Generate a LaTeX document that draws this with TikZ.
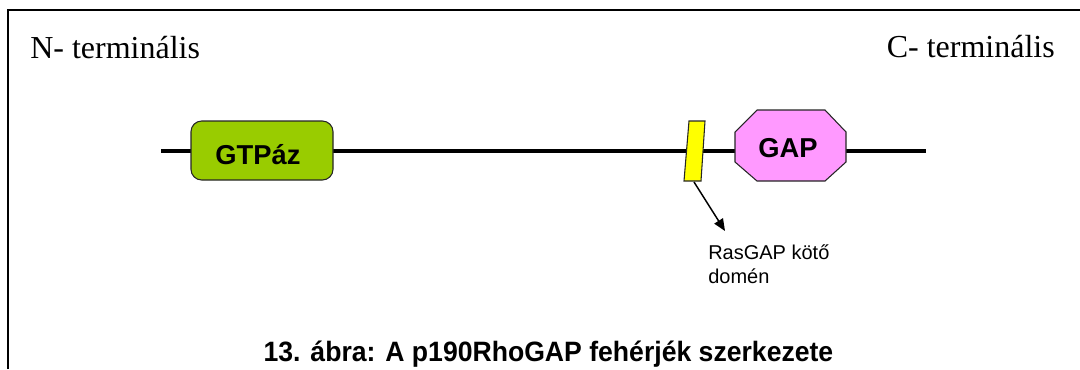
\documentclass[tikz,border=0pt]{standalone}
\usepackage{fontspec}
\setmainfont{Liberation Serif}
\setsansfont{Liberation Sans}
\usepackage{graphicx}
\usetikzlibrary{arrows.meta}
\definecolor{domgreen}{HTML}{99CC00}
\definecolor{domyellow}{HTML}{FFFF00}
\definecolor{dompink}{HTML}{FF99FF}
\tikzset{
  termtext/.style={font=\fontsize{24pt}{28pt}\selectfont\rmfamily, inner sep=0pt},
  domtext/.style={font=\fontsize{20.5pt}{24pt}\selectfont\sffamily\bfseries, inner sep=0pt},
  domborder/.style={draw=black!85, line width=0.8pt},
  chain/.style={line width=3pt},
  labeltext/.style={font=\fontsize{15pt}{18pt}\selectfont\sffamily, inner sep=0pt, align=left},
  captiontext/.style={font=\fontsize{21pt}{25pt}\selectfont\sffamily\bfseries, inner sep=0pt}
}
\begin{document}
\begin{tikzpicture}[x=0.75pt, y=-0.75pt]
\useasboundingbox (0,0) rectangle (1080,369);
% frame
\draw[line width=1.5pt] (8,369) -- (8,10) -- (1080,10);
% texts
\node[termtext, anchor=base west] (nterm) at (30,58) {N- terminális};
\node[termtext, anchor=base east] (cterm) at (1055,57) {C- terminális};
% chain
\coordinate (lstart) at (161,151);
\coordinate (lend) at (926,151);
\draw[chain] (lstart) -- (lend);
% GTPase box
\node[domborder, fill=domgreen, rounded corners=8pt, minimum width=106.5pt, minimum height=44.25pt, inner sep=0pt] (gtp) at (262,150.5) {};
\node[domtext, anchor=base] (gtptext) at (258,164) {GTPáz};
% yellow RasGAP binding domain
\draw[domborder, fill=domyellow] (689,121) -- (705,121) -- (701,181) -- (684,181) -- cycle;
\coordinate (ybot) at (694,182);
% GAP octagon
\draw[domborder, fill=dompink] (757,110) -- (825,110) -- (846,132) -- (846,162) -- (825,181) -- (757,181) -- (735,162) -- (735,132) -- cycle;
\node[domtext, anchor=base] (gaptext) at (788,157) {GAP};
% arrow
\coordinate (aend) at (725,231);
\draw[line width=1.1pt, -{Triangle[length=9pt, width=7.5pt]}] (ybot) -- (aend);
% label
\node[labeltext, anchor=base west] (raslabel) at (708,283) {RasGAP kötő\\domén};
% caption
\node[captiontext, anchor=base] (caption) at (548.5,361) {\scalebox{0.95}[1]{13. ábra: A p190RhoGAP fehérjék szerkezete}};
\end{tikzpicture}
\end{document}
